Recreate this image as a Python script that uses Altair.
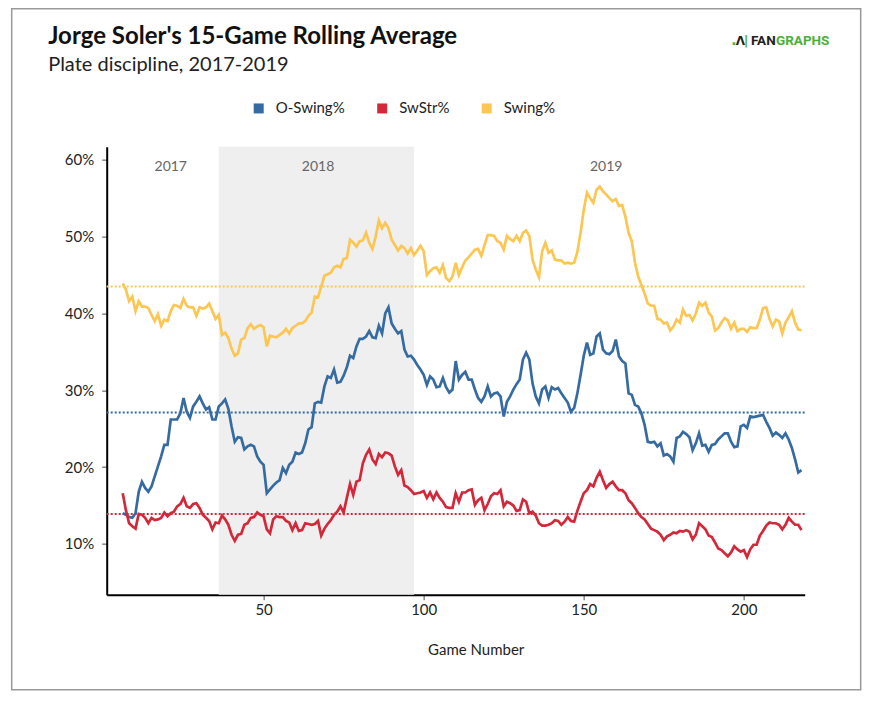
import altair as alt
import pandas as pd

# ---------------- data ----------------
games = list(range(6, 219))

o_swing = [
    14.0, 13.8, 13.5, 13.4, 14.0, 16.8, 18.1, 17.3, 16.8, 17.5,
    18.8, 20.1, 21.4, 22.9, 22.9, 26.2, 26.2, 26.2, 27.0, 29.0,
    27.2, 26.4, 27.9, 28.5, 29.2, 28.3, 27.5, 27.8, 26.2, 26.2,
    27.9, 28.3, 28.8, 27.6, 25.3, 23.3, 23.9, 23.8, 22.3, 22.7,
    22.9, 22.7, 21.4, 20.7, 20.3, 16.6, 17.1, 17.6, 18.0, 18.3,
    19.9, 19.2, 20.3, 20.7, 21.9, 21.7, 21.9, 23.1, 24.9, 25.2,
    28.3, 28.5, 28.4, 30.5, 31.8, 31.6, 32.7, 31.0, 31.1, 31.9,
    33.0, 34.5, 34.2, 35.7, 36.7, 36.7, 37.0, 37.7, 36.9, 36.8,
    38.4, 37.4, 40.0, 40.8, 38.7, 38.0, 37.4, 37.7, 35.3, 34.4,
    34.5, 34.0, 33.3, 32.7, 32.0, 30.7, 31.8, 31.4, 30.4, 30.5,
    31.6, 30.4, 29.7, 30.1, 33.8, 31.4, 32.0, 32.4, 31.4, 31.4,
    30.1, 29.0, 28.5, 29.2, 30.5, 29.2, 29.6, 29.7, 29.2, 26.6,
    28.5, 29.2, 30.1, 30.8, 31.4, 34.0, 34.9, 34.0, 30.9, 29.2,
    28.3, 30.1, 30.5, 29.0, 30.4, 30.1, 30.3, 29.6, 29.0, 28.4,
    27.2, 27.7, 29.6, 32.0, 34.5, 36.2, 34.6, 34.8, 37.0, 37.4,
    35.3, 34.8, 34.7, 35.1, 36.6, 34.4, 33.8, 33.5, 29.6, 29.4,
    28.1, 27.9, 27.0, 25.5, 23.3, 23.2, 23.3, 22.7, 23.1, 21.5,
    21.7, 21.4, 20.7, 23.8, 24.0, 24.6, 24.3, 23.9, 22.2, 23.1,
    24.4, 22.8, 22.9, 22.0, 22.9, 23.0, 23.6, 24.0, 24.4, 24.4,
    23.3, 22.6, 22.7, 25.3, 25.5, 25.1, 26.6, 26.5, 26.6, 26.7,
    26.8, 25.9, 25.1, 24.1, 24.5, 24.2, 23.8, 24.4, 23.6, 22.5,
    21.0, 19.3, 19.6,
]

swstr = [
    16.6, 14.4, 12.7, 12.3, 12.0, 13.9, 13.8, 13.4, 12.7, 13.4,
    13.1, 13.2, 13.4, 14.1, 13.6, 14.0, 14.2, 14.9, 15.2, 16.0,
    14.9, 14.7, 15.2, 15.3, 14.7, 13.8, 13.4, 13.0, 11.9, 12.8,
    12.7, 13.7, 13.2, 12.5, 11.2, 10.4, 11.2, 11.3, 12.5, 12.7,
    13.4, 13.5, 14.1, 13.8, 13.6, 11.9, 11.4, 13.2, 13.6, 13.5,
    13.5, 13.0, 12.8, 11.8, 12.7, 11.7, 11.8, 12.7, 12.6, 12.5,
    12.6, 13.0, 11.1, 12.0, 12.6, 13.1, 13.8, 14.2, 14.9, 14.1,
    16.0, 17.8, 16.4, 18.1, 18.3, 20.5, 21.6, 22.3, 21.0, 20.4,
    21.7, 21.3, 21.9, 21.8, 21.5, 20.1, 19.0, 19.6, 17.6, 17.4,
    17.0, 16.5, 16.6, 16.7, 16.9, 16.0, 16.7, 15.8, 16.7, 16.0,
    15.5, 14.8, 14.7, 14.7, 16.6, 15.5, 16.7, 16.7, 17.0, 17.1,
    15.1, 15.7, 16.0, 14.4, 15.2, 16.2, 16.6, 16.5, 17.0, 14.9,
    15.5, 15.3, 15.0, 14.3, 14.4, 15.8, 15.5, 14.0, 14.2, 13.7,
    12.7, 12.4, 12.4, 12.5, 12.7, 13.1, 13.0, 12.5, 12.9, 13.5,
    13.0, 12.9, 14.3, 15.5, 16.6, 17.0, 17.8, 17.5, 18.6, 19.4,
    18.3, 17.3, 17.8, 18.1, 17.5, 17.0, 17.0, 16.6, 15.7, 15.3,
    14.7, 14.0, 13.5, 13.2, 12.6, 12.0, 11.8, 11.6, 11.2, 10.5,
    11.0, 11.2, 11.5, 11.4, 11.7, 11.6, 11.8, 11.6, 10.6, 11.2,
    12.7, 12.3, 11.9, 11.1, 10.9, 10.2, 9.4, 9.2, 8.8, 8.4,
    8.9, 9.7, 9.3, 9.0, 9.2, 8.3, 9.3, 9.9, 9.9, 11.1,
    11.7, 12.4, 12.8, 12.7, 12.7, 12.5, 11.9, 12.5, 13.4, 12.9,
    12.5, 12.5, 11.8,
]

swing = [
    43.9, 43.1, 41.6, 42.2, 40.3, 41.6, 40.9, 40.9, 40.7, 39.8,
    39.0, 39.9, 38.4, 39.2, 39.0, 40.3, 41.1, 41.0, 40.7, 41.9,
    41.0, 40.8, 40.8, 39.7, 40.8, 40.6, 40.8, 41.3, 40.3, 39.3,
    39.8, 37.2, 37.5, 36.8, 35.4, 34.5, 34.8, 36.6, 36.8, 38.1,
    38.6, 38.0, 38.3, 38.5, 38.2, 35.7, 37.1, 37.0, 36.9, 37.2,
    37.5, 38.0, 37.4, 38.1, 38.4, 38.7, 38.7, 39.0, 39.7, 40.1,
    42.2, 42.1, 43.5, 44.9, 45.1, 45.3, 46.0, 46.2, 46.0, 47.1,
    47.2, 49.6, 49.2, 48.7, 49.4, 49.5, 50.5, 49.2, 48.4, 50.0,
    52.1, 51.1, 51.8, 51.1, 49.6, 48.9, 48.2, 48.8, 48.5, 47.8,
    48.5, 47.6, 48.2, 48.8, 48.1, 45.0, 45.5, 45.9, 46.0, 45.3,
    46.3, 44.6, 44.2, 44.8, 46.6, 45.0, 46.0, 46.9, 47.3, 47.8,
    48.3, 48.4, 47.5, 48.9, 50.2, 50.2, 50.1, 49.4, 49.2, 48.3,
    50.1, 49.7, 49.4, 50.1, 49.4, 50.5, 50.8, 50.1, 47.0, 45.7,
    44.7, 48.1, 49.2, 47.9, 48.2, 47.0, 46.9, 46.9, 46.5, 46.6,
    46.5, 46.6, 48.0, 50.5, 53.5, 55.7, 55.0, 54.4, 56.1, 56.5,
    55.9, 55.5, 55.0, 54.6, 54.9, 54.0, 54.1, 52.6, 50.5, 49.4,
    46.6, 44.8, 43.7, 42.6, 41.3, 41.0, 41.0, 39.3, 39.2, 38.7,
    38.8, 37.8, 38.3, 39.2, 38.8, 40.5, 39.7, 39.8, 39.1, 40.0,
    41.4, 41.0, 41.4, 40.1, 39.6, 37.8, 38.1, 38.8, 39.4, 39.1,
    38.0, 38.8, 37.7, 38.0, 38.0, 37.6, 38.2, 38.1, 38.1, 39.2,
    40.7, 40.8, 39.3, 38.3, 39.2, 39.0, 37.4, 38.8, 39.5, 40.3,
    38.8, 37.9, 37.8,
]

series_names = ["O-Swing%", "SwStr%", "Swing%"]
series_colors = ["#366ba1", "#d3283a", "#fcc653"]
season_avgs = [27.1, 13.9, 43.5]

year_labels = ["2017", "2018", "2019"]
year_label_games = [21, 67, 157]
band_start = [36]
band_end = [97]

x_ticks = [50, 100, 150, 200]
y_ticks = [0.1, 0.2, 0.3, 0.4, 0.5, 0.6]

title_text = "Jorge Soler's 15-Game Rolling Average"
subtitle_text = "Plate discipline, 2017-2019"
x_title = "Game Number"

# ---------------- tables ----------------
rows = []
for name, vals in zip(series_names, [o_swing, swstr, swing]):
    for g, v in zip(games, vals):
        rows.append({"game": g, "series": name, "value": v / 100.0})
lines_df = pd.DataFrame(rows)
avg_df = pd.DataFrame({"series": series_names, "avg": [a / 100.0 for a in season_avgs]})
band_df = pd.DataFrame({"start": band_start, "end": band_end})
year_df = pd.DataFrame({"label": year_labels, "game": year_label_games})
one = pd.DataFrame({"k": [0]})

W, H = 698, 448
FONT = "Lato"

x_scale = alt.Scale(domain=[1, 219], nice=False, zero=False)
y_scale = alt.Scale(domain=[0.034, 0.617], nice=False, zero=False)
color_scale = alt.Scale(domain=series_names, range=series_colors)

x_axis = alt.Axis(
    values=x_ticks, title=x_title, grid=False, format="d",
    labelFont=FONT, labelFontSize=15, labelColor="#222", labelPadding=3,
    titleFont=FONT, titleFontSize=15, titleFontWeight="normal", titleColor="#222",
    titlePadding=25, titleX=369, domainColor="#000", domainWidth=2,
    tickColor="#888", tickSize=5, tickWidth=1.5,
)
y_axis = alt.Axis(
    values=y_ticks, format=".0%", title=None, grid=False,
    labelFont=FONT, labelFontSize=15, labelColor="#222", labelPadding=8,
    domainColor="#000", domainWidth=2,
    tickColor="#888", tickSize=5, tickWidth=1.5,
)
legend = alt.Legend(
    title=None, orient="none", legendX=144.5, legendY=-46,
    direction="horizontal", symbolType="square", symbolSize=16,
    symbolStrokeWidth=6, symbolOpacity=1, labelFont=FONT, labelFontSize=15,
    labelColor="#222", labelOffset=9.5, columnPadding=22.5, padding=0,
)
color_enc = alt.Color("series:N", scale=color_scale, sort=series_names, legend=legend)

frame = alt.Chart(one).mark_rect(
    fillOpacity=0, stroke="#999", strokeWidth=1.5
).encode(
    x=alt.value(-95), x2=alt.value(754), y=alt.value(-138), y2=alt.value(543)
)

band = alt.Chart(band_df).mark_rect(color="#efefef").encode(
    x=alt.X("start:Q", scale=x_scale, axis=x_axis),
    x2="end:Q",
)

avg_rules = alt.Chart(avg_df).mark_rule(strokeDash=[2, 2], strokeWidth=2).encode(
    y=alt.Y("avg:Q", scale=y_scale, axis=y_axis),
    color=color_enc,
)

lines = alt.Chart(lines_df).mark_line(strokeWidth=2.7).encode(
    x=alt.X("game:Q", scale=x_scale, axis=x_axis),
    y=alt.Y("value:Q", scale=y_scale, axis=y_axis),
    color=color_enc,
)

years = alt.Chart(year_df).mark_text(
    font=FONT, fontSize=14, color="#666", baseline="middle"
).encode(
    x=alt.X("game:Q", scale=x_scale),
    y=alt.value(20),
    text="label:N",
)

title = alt.Chart(one).mark_text(
    text=title_text, font=FONT, fontSize=24, fontWeight="bold", color="#111",
    align="left", baseline="alphabetic",
).encode(x=alt.value(-58.5), y=alt.value(-102.5))

subtitle = alt.Chart(one).mark_text(
    text=subtitle_text, font=FONT, fontSize=20, color="#222",
    align="left", baseline="alphabetic",
).encode(x=alt.value(-58.5), y=alt.value(-76))

logo_dot = alt.Chart(one).mark_text(
    text=".", font="DejaVu Sans", fontSize=14, fontWeight="bold", color="#4caf3c",
    align="left", baseline="alphabetic",
).encode(x=alt.value(624.5), y=alt.value(-102))
logo_fig = alt.Chart(one).mark_text(
    text="Ʌ", font="DejaVu Sans", fontSize=12, fontWeight="bold", color="#222",
    align="left", baseline="alphabetic",
).encode(x=alt.value(629), y=alt.value(-102))
logo_bar = alt.Chart(one).mark_text(
    text="|", font="DejaVu Sans", fontSize=13, fontWeight="bold", color="#4caf3c",
    align="left", baseline="alphabetic",
).encode(x=alt.value(637), y=alt.value(-102))
logo_fan = alt.Chart(one).mark_text(
    text="FAN", font="Roboto", fontSize=13.5, fontWeight="bold", color="#222",
    align="right", baseline="alphabetic",
).encode(x=alt.value(669), y=alt.value(-101.5))
logo_graphs = alt.Chart(one).mark_text(
    text="GRAPHS", font="Roboto", fontSize=13.5, fontWeight="bold", color="#4caf3c",
    align="left", baseline="alphabetic",
).encode(x=alt.value(669.3), y=alt.value(-101.5))

chart = alt.layer(
    frame, band, avg_rules, lines, years, title, subtitle,
    logo_dot, logo_fig, logo_bar, logo_fan, logo_graphs,
).properties(
    width=W, height=H,
    autosize=alt.AutoSizeParams(type="none"),
    padding={"left": 98.7, "top": 138.7, "right": 62, "bottom": 100},
    background="white",
).configure_view(stroke=None).configure_text(font=FONT)

chart.save("out.html", embed_options={"renderer": "svg", "actions": False})
